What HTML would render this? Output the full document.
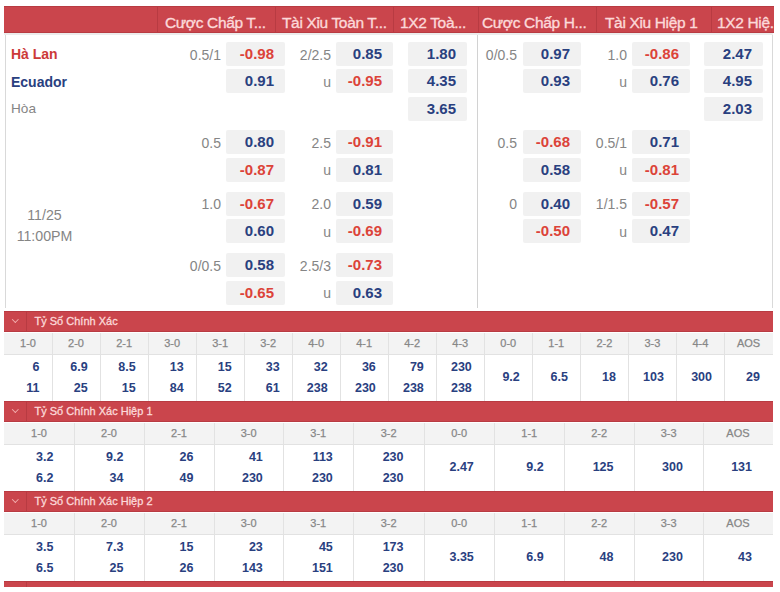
<!DOCTYPE html>
<html><head><meta charset="utf-8"><style>
*{margin:0;padding:0;box-sizing:border-box}
html,body{width:780px;height:592px;overflow:hidden;background:#fff}
body{position:relative;font-family:"Liberation Sans",sans-serif}
.a{position:absolute;white-space:nowrap}
.ht{position:absolute;color:#fcd9d9;-webkit-text-stroke:0.35px #fcd9d9;font-size:15.5px;letter-spacing:-0.35px;line-height:20px;top:13.2px;white-space:nowrap}
.vd{position:absolute;width:1px;background:#b83b42}
.bx{position:absolute;background:#f1f1f1;border-radius:2px;height:24px;font-weight:bold;font-size:15px;line-height:24px;text-align:right;padding-right:11px}
.lb{position:absolute;color:#858585;font-size:14px;line-height:24px;text-align:right;width:60px}
.r{color:#dc4339}
.b{color:#29407f}
.cl{position:absolute;width:1px;background:#e2e2e2}
.lt{position:absolute;color:#858585;font-size:11px;text-align:center;-webkit-text-stroke:0.25px #8a8a8a}
.vt{position:absolute;color:#29407f;font-size:12.5px;font-weight:bold;line-height:16px;text-align:right;width:60px}
.st{position:absolute;color:#fcd9d9;font-size:11px;letter-spacing:0px;left:34.5px;white-space:nowrap;-webkit-text-stroke:0.3px #fcd9d9}
</style></head>
<body>
<div class="a" style="left:4px;top:6px;width:770px;height:27px;background:#ca454c;border-top:1px solid #b83b42;border-bottom:1px solid #b83b42"></div>
<div class="a" style="left:4px;top:33px;width:769px;height:2px;background:#ececec"></div>
<div class="vd" style="left:157px;top:6px;height:27px"></div>
<div class="vd" style="left:275px;top:6px;height:27px"></div>
<div class="vd" style="left:393px;top:6px;height:27px"></div>
<div class="vd" style="left:478px;top:6px;height:27px"></div>
<div class="vd" style="left:596px;top:6px;height:27px"></div>
<div class="vd" style="left:711px;top:6px;height:27px"></div>
<div class="a" style="left:0;top:0;width:774px;height:40px;overflow:hidden">
<div class="ht" style="left:165px">Cược Chấp T...</div>
<div class="ht" style="left:282px">Tài Xỉu Toàn T...</div>
<div class="ht" style="left:400px">1X2 Toà...</div>
<div class="ht" style="left:482px">Cược Chấp H...</div>
<div class="ht" style="left:605px">Tài Xỉu Hiệp 1</div>
<div class="ht" style="left:717px">1X2 Hiệ.</div>
</div>
<div class="a" style="left:5px;top:35px;width:1px;height:273px;background:#d9d9d9"></div>
<div class="a" style="left:477px;top:35px;width:1px;height:273px;background:#d2d2d2"></div>
<div class="a" style="left:772px;top:35px;width:1px;height:273px;background:#d9d9d9"></div>
<div class="a" style="left:11px;top:44px;font-size:14px;font-weight:bold;color:#cc3a38;line-height:20px">Hà Lan</div>
<div class="a" style="left:11px;top:71.5px;font-size:14px;font-weight:bold;color:#29407f;line-height:20px">Ecuador</div>
<div class="a" style="left:11px;top:99px;font-size:13.6px;color:#858585;line-height:20px">Hòa</div>
<div class="a" style="left:9.5px;width:70px;top:204.5px;font-size:14.2px;color:#858585;line-height:21px;text-align:center;white-space:normal">11/25<br>11:00PM</div>
<div class="lb" style="left:161px;top:42.5px">0.5/1</div>
<div class="bx r" style="left:226px;top:42px;width:59px">-0.98</div>
<div class="lb" style="left:271px;top:42.5px">2/2.5</div>
<div class="bx b" style="left:336px;top:42px;width:57px">0.85</div>
<div class="bx b" style="left:408px;top:42px;width:59px">1.80</div>
<div class="lb" style="left:457px;top:42.5px">0/0.5</div>
<div class="bx b" style="left:523px;top:42px;width:58px">0.97</div>
<div class="lb" style="left:567px;top:42.5px">1.0</div>
<div class="bx r" style="left:632px;top:42px;width:58px">-0.86</div>
<div class="bx b" style="left:704px;top:42px;width:59px">2.47</div>
<div class="bx b" style="left:226px;top:69px;width:59px">0.91</div>
<div class="lb" style="left:271px;top:69.5px">u</div>
<div class="bx r" style="left:336px;top:69px;width:57px">-0.95</div>
<div class="bx b" style="left:408px;top:69px;width:59px">4.35</div>
<div class="bx b" style="left:523px;top:69px;width:58px">0.93</div>
<div class="lb" style="left:567px;top:69.5px">u</div>
<div class="bx b" style="left:632px;top:69px;width:58px">0.76</div>
<div class="bx b" style="left:704px;top:69px;width:59px">4.95</div>
<div class="bx b" style="left:408px;top:96.5px;width:59px">3.65</div>
<div class="bx b" style="left:704px;top:96.5px;width:59px">2.03</div>
<div class="lb" style="left:161px;top:130.8px">0.5</div>
<div class="bx b" style="left:226px;top:130.3px;width:59px">0.80</div>
<div class="lb" style="left:271px;top:130.8px">2.5</div>
<div class="bx r" style="left:336px;top:130.3px;width:57px">-0.91</div>
<div class="lb" style="left:457px;top:130.8px">0.5</div>
<div class="bx r" style="left:523px;top:130.3px;width:58px">-0.68</div>
<div class="lb" style="left:567px;top:130.8px">0.5/1</div>
<div class="bx b" style="left:632px;top:130.3px;width:58px">0.71</div>
<div class="bx r" style="left:226px;top:157.5px;width:59px">-0.87</div>
<div class="lb" style="left:271px;top:158.0px">u</div>
<div class="bx b" style="left:336px;top:157.5px;width:57px">0.81</div>
<div class="bx b" style="left:523px;top:157.5px;width:58px">0.58</div>
<div class="lb" style="left:567px;top:158.0px">u</div>
<div class="bx r" style="left:632px;top:157.5px;width:58px">-0.81</div>
<div class="lb" style="left:161px;top:192.3px">1.0</div>
<div class="bx r" style="left:226px;top:191.8px;width:59px">-0.67</div>
<div class="lb" style="left:271px;top:192.3px">2.0</div>
<div class="bx b" style="left:336px;top:191.8px;width:57px">0.59</div>
<div class="lb" style="left:457px;top:192.3px">0</div>
<div class="bx b" style="left:523px;top:191.8px;width:58px">0.40</div>
<div class="lb" style="left:567px;top:192.3px">1/1.5</div>
<div class="bx r" style="left:632px;top:191.8px;width:58px">-0.57</div>
<div class="bx b" style="left:226px;top:219px;width:59px">0.60</div>
<div class="lb" style="left:271px;top:219.5px">u</div>
<div class="bx r" style="left:336px;top:219px;width:57px">-0.69</div>
<div class="bx r" style="left:523px;top:219px;width:58px">-0.50</div>
<div class="lb" style="left:567px;top:219.5px">u</div>
<div class="bx b" style="left:632px;top:219px;width:58px">0.47</div>
<div class="lb" style="left:161px;top:253.8px">0/0.5</div>
<div class="bx b" style="left:226px;top:253.3px;width:59px">0.58</div>
<div class="lb" style="left:271px;top:253.8px">2.5/3</div>
<div class="bx r" style="left:336px;top:253.3px;width:57px">-0.73</div>
<div class="bx r" style="left:226px;top:280.5px;width:59px">-0.65</div>
<div class="lb" style="left:271px;top:281.0px">u</div>
<div class="bx b" style="left:336px;top:280.5px;width:57px">0.63</div>
<div class="a" style="left:4px;top:311px;width:768.5px;height:20.5px;background:#ca454c;border-top:1px solid #b83b42;border-bottom:1px solid #b83b42"></div>
<div class="a" style="left:26px;top:311px;width:1px;height:20.5px;background:#b83b42"></div>
<div class="a" style="left:13.3px;top:316.65px;width:4.6px;height:4.6px;border-right:1.2px solid #f3b0b0;border-bottom:1.2px solid #f3b0b0;transform:rotate(45deg)"></div>
<div class="st" style="top:313.3px;line-height:16px">Tỷ Số Chính Xác</div>
<div class="a" style="left:4px;top:332.5px;width:768.5px;height:22px;background:#f3f3f3;border-bottom:1px solid #e2e2e2"></div>
<div class="cl" style="left:51.5px;top:332.5px;height:68px"></div>
<div class="cl" style="left:99.6px;top:332.5px;height:68px"></div>
<div class="cl" style="left:147.6px;top:332.5px;height:68px"></div>
<div class="cl" style="left:195.6px;top:332.5px;height:68px"></div>
<div class="cl" style="left:243.7px;top:332.5px;height:68px"></div>
<div class="cl" style="left:291.7px;top:332.5px;height:68px"></div>
<div class="cl" style="left:339.7px;top:332.5px;height:68px"></div>
<div class="cl" style="left:387.8px;top:332.5px;height:68px"></div>
<div class="cl" style="left:435.8px;top:332.5px;height:68px"></div>
<div class="cl" style="left:483.8px;top:332.5px;height:68px"></div>
<div class="cl" style="left:531.8px;top:332.5px;height:68px"></div>
<div class="cl" style="left:579.9px;top:332.5px;height:68px"></div>
<div class="cl" style="left:627.9px;top:332.5px;height:68px"></div>
<div class="cl" style="left:675.9px;top:332.5px;height:68px"></div>
<div class="cl" style="left:724.0px;top:332.5px;height:68px"></div>
<div class="lt" style="left:4.0px;width:48.0px;top:335.1px;line-height:16px">1-0</div>
<div class="lt" style="left:52.0px;width:48.0px;top:335.1px;line-height:16px">2-0</div>
<div class="lt" style="left:100.1px;width:48.0px;top:335.1px;line-height:16px">2-1</div>
<div class="lt" style="left:148.1px;width:48.0px;top:335.1px;line-height:16px">3-0</div>
<div class="lt" style="left:196.1px;width:48.0px;top:335.1px;line-height:16px">3-1</div>
<div class="lt" style="left:244.2px;width:48.0px;top:335.1px;line-height:16px">3-2</div>
<div class="lt" style="left:292.2px;width:48.0px;top:335.1px;line-height:16px">4-0</div>
<div class="lt" style="left:340.2px;width:48.0px;top:335.1px;line-height:16px">4-1</div>
<div class="lt" style="left:388.2px;width:48.0px;top:335.1px;line-height:16px">4-2</div>
<div class="lt" style="left:436.3px;width:48.0px;top:335.1px;line-height:16px">4-3</div>
<div class="lt" style="left:484.3px;width:48.0px;top:335.1px;line-height:16px">0-0</div>
<div class="lt" style="left:532.3px;width:48.0px;top:335.1px;line-height:16px">1-1</div>
<div class="lt" style="left:580.4px;width:48.0px;top:335.1px;line-height:16px">2-2</div>
<div class="lt" style="left:628.4px;width:48.0px;top:335.1px;line-height:16px">3-3</div>
<div class="lt" style="left:676.4px;width:48.0px;top:335.1px;line-height:16px">4-4</div>
<div class="lt" style="left:724.5px;width:48.0px;top:335.1px;line-height:16px">AOS</div>
<div class="vt" style="left:-20.5px;top:358.8px">6</div>
<div class="vt" style="left:-20.5px;top:380.1px">11</div>
<div class="vt" style="left:27.6px;top:358.8px">6.9</div>
<div class="vt" style="left:27.6px;top:380.1px">25</div>
<div class="vt" style="left:75.6px;top:358.8px">8.5</div>
<div class="vt" style="left:75.6px;top:380.1px">15</div>
<div class="vt" style="left:123.6px;top:358.8px">13</div>
<div class="vt" style="left:123.6px;top:380.1px">84</div>
<div class="vt" style="left:171.7px;top:358.8px">15</div>
<div class="vt" style="left:171.7px;top:380.1px">52</div>
<div class="vt" style="left:219.7px;top:358.8px">33</div>
<div class="vt" style="left:219.7px;top:380.1px">61</div>
<div class="vt" style="left:267.7px;top:358.8px">32</div>
<div class="vt" style="left:267.7px;top:380.1px">238</div>
<div class="vt" style="left:315.8px;top:358.8px">36</div>
<div class="vt" style="left:315.8px;top:380.1px">230</div>
<div class="vt" style="left:363.8px;top:358.8px">79</div>
<div class="vt" style="left:363.8px;top:380.1px">238</div>
<div class="vt" style="left:411.8px;top:358.8px">230</div>
<div class="vt" style="left:411.8px;top:380.1px">238</div>
<div class="vt" style="left:459.8px;top:369.4px">9.2</div>
<div class="vt" style="left:507.9px;top:369.4px">6.5</div>
<div class="vt" style="left:555.9px;top:369.4px">18</div>
<div class="vt" style="left:603.9px;top:369.4px">103</div>
<div class="vt" style="left:652.0px;top:369.4px">300</div>
<div class="vt" style="left:700.0px;top:369.4px">29</div>
<div class="a" style="left:4px;top:401px;width:768.5px;height:20.5px;background:#ca454c;border-top:1px solid #b83b42;border-bottom:1px solid #b83b42"></div>
<div class="a" style="left:26px;top:401px;width:1px;height:20.5px;background:#b83b42"></div>
<div class="a" style="left:13.3px;top:406.65px;width:4.6px;height:4.6px;border-right:1.2px solid #f3b0b0;border-bottom:1.2px solid #f3b0b0;transform:rotate(45deg)"></div>
<div class="st" style="top:403.3px;line-height:16px">Tỷ Số Chính Xác Hiệp 1</div>
<div class="a" style="left:4px;top:422.5px;width:768.5px;height:22px;background:#f3f3f3;border-bottom:1px solid #e2e2e2"></div>
<div class="cl" style="left:73.5px;top:422.5px;height:68px"></div>
<div class="cl" style="left:143.5px;top:422.5px;height:68px"></div>
<div class="cl" style="left:213.5px;top:422.5px;height:68px"></div>
<div class="cl" style="left:282.8px;top:422.5px;height:68px"></div>
<div class="cl" style="left:352.8px;top:422.5px;height:68px"></div>
<div class="cl" style="left:423.5px;top:422.5px;height:68px"></div>
<div class="cl" style="left:493.8px;top:422.5px;height:68px"></div>
<div class="cl" style="left:563.7px;top:422.5px;height:68px"></div>
<div class="cl" style="left:633.5px;top:422.5px;height:68px"></div>
<div class="cl" style="left:702.9px;top:422.5px;height:68px"></div>
<div class="lt" style="left:4.0px;width:70.0px;top:425.1px;line-height:16px">1-0</div>
<div class="lt" style="left:74.0px;width:70.0px;top:425.1px;line-height:16px">2-0</div>
<div class="lt" style="left:144.0px;width:70.0px;top:425.1px;line-height:16px">2-1</div>
<div class="lt" style="left:214.0px;width:69.3px;top:425.1px;line-height:16px">3-0</div>
<div class="lt" style="left:283.3px;width:70.0px;top:425.1px;line-height:16px">3-1</div>
<div class="lt" style="left:353.3px;width:70.7px;top:425.1px;line-height:16px">3-2</div>
<div class="lt" style="left:424.0px;width:70.3px;top:425.1px;line-height:16px">0-0</div>
<div class="lt" style="left:494.3px;width:69.9px;top:425.1px;line-height:16px">1-1</div>
<div class="lt" style="left:564.2px;width:69.8px;top:425.1px;line-height:16px">2-2</div>
<div class="lt" style="left:634.0px;width:69.4px;top:425.1px;line-height:16px">3-3</div>
<div class="lt" style="left:703.4px;width:69.1px;top:425.1px;line-height:16px">AOS</div>
<div class="vt" style="left:-6.5px;top:448.8px">3.2</div>
<div class="vt" style="left:-6.5px;top:470.1px">6.2</div>
<div class="vt" style="left:63.5px;top:448.8px">9.2</div>
<div class="vt" style="left:63.5px;top:470.1px">34</div>
<div class="vt" style="left:133.5px;top:448.8px">26</div>
<div class="vt" style="left:133.5px;top:470.1px">49</div>
<div class="vt" style="left:202.8px;top:448.8px">41</div>
<div class="vt" style="left:202.8px;top:470.1px">230</div>
<div class="vt" style="left:272.8px;top:448.8px">113</div>
<div class="vt" style="left:272.8px;top:470.1px">230</div>
<div class="vt" style="left:343.5px;top:448.8px">230</div>
<div class="vt" style="left:343.5px;top:470.1px">230</div>
<div class="vt" style="left:413.8px;top:459.4px">2.47</div>
<div class="vt" style="left:483.7px;top:459.4px">9.2</div>
<div class="vt" style="left:553.5px;top:459.4px">125</div>
<div class="vt" style="left:622.9px;top:459.4px">300</div>
<div class="vt" style="left:692.0px;top:459.4px">131</div>
<div class="a" style="left:4px;top:491px;width:768.5px;height:20.5px;background:#ca454c;border-top:1px solid #b83b42;border-bottom:1px solid #b83b42"></div>
<div class="a" style="left:26px;top:491px;width:1px;height:20.5px;background:#b83b42"></div>
<div class="a" style="left:13.3px;top:496.65px;width:4.6px;height:4.6px;border-right:1.2px solid #f3b0b0;border-bottom:1.2px solid #f3b0b0;transform:rotate(45deg)"></div>
<div class="st" style="top:493.3px;line-height:16px">Tỷ Số Chính Xác Hiệp 2</div>
<div class="a" style="left:4px;top:512.5px;width:768.5px;height:22px;background:#f3f3f3;border-bottom:1px solid #e2e2e2"></div>
<div class="cl" style="left:73.5px;top:512.5px;height:68px"></div>
<div class="cl" style="left:143.5px;top:512.5px;height:68px"></div>
<div class="cl" style="left:213.5px;top:512.5px;height:68px"></div>
<div class="cl" style="left:282.8px;top:512.5px;height:68px"></div>
<div class="cl" style="left:352.8px;top:512.5px;height:68px"></div>
<div class="cl" style="left:423.5px;top:512.5px;height:68px"></div>
<div class="cl" style="left:493.8px;top:512.5px;height:68px"></div>
<div class="cl" style="left:563.7px;top:512.5px;height:68px"></div>
<div class="cl" style="left:633.5px;top:512.5px;height:68px"></div>
<div class="cl" style="left:702.9px;top:512.5px;height:68px"></div>
<div class="lt" style="left:4.0px;width:70.0px;top:515.1px;line-height:16px">1-0</div>
<div class="lt" style="left:74.0px;width:70.0px;top:515.1px;line-height:16px">2-0</div>
<div class="lt" style="left:144.0px;width:70.0px;top:515.1px;line-height:16px">2-1</div>
<div class="lt" style="left:214.0px;width:69.3px;top:515.1px;line-height:16px">3-0</div>
<div class="lt" style="left:283.3px;width:70.0px;top:515.1px;line-height:16px">3-1</div>
<div class="lt" style="left:353.3px;width:70.7px;top:515.1px;line-height:16px">3-2</div>
<div class="lt" style="left:424.0px;width:70.3px;top:515.1px;line-height:16px">0-0</div>
<div class="lt" style="left:494.3px;width:69.9px;top:515.1px;line-height:16px">1-1</div>
<div class="lt" style="left:564.2px;width:69.8px;top:515.1px;line-height:16px">2-2</div>
<div class="lt" style="left:634.0px;width:69.4px;top:515.1px;line-height:16px">3-3</div>
<div class="lt" style="left:703.4px;width:69.1px;top:515.1px;line-height:16px">AOS</div>
<div class="vt" style="left:-6.5px;top:538.8px">3.5</div>
<div class="vt" style="left:-6.5px;top:560.1px">6.5</div>
<div class="vt" style="left:63.5px;top:538.8px">7.3</div>
<div class="vt" style="left:63.5px;top:560.1px">25</div>
<div class="vt" style="left:133.5px;top:538.8px">15</div>
<div class="vt" style="left:133.5px;top:560.1px">26</div>
<div class="vt" style="left:202.8px;top:538.8px">23</div>
<div class="vt" style="left:202.8px;top:560.1px">143</div>
<div class="vt" style="left:272.8px;top:538.8px">45</div>
<div class="vt" style="left:272.8px;top:560.1px">151</div>
<div class="vt" style="left:343.5px;top:538.8px">173</div>
<div class="vt" style="left:343.5px;top:560.1px">230</div>
<div class="vt" style="left:413.8px;top:549.4px">3.35</div>
<div class="vt" style="left:483.7px;top:549.4px">6.9</div>
<div class="vt" style="left:553.5px;top:549.4px">48</div>
<div class="vt" style="left:622.9px;top:549.4px">230</div>
<div class="vt" style="left:692.0px;top:549.4px">43</div>
<div class="a" style="left:4px;top:580.5px;width:768.5px;height:6px;background:#ca454c;border-top:1px solid #b83b42"></div>
<div class="a" style="left:26px;top:580.5px;width:1px;height:6px;background:#b83b42"></div>
</body></html>
